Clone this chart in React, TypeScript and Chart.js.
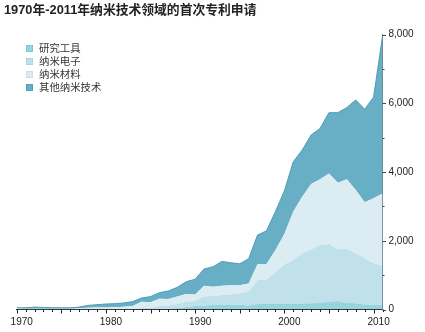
import React, { useEffect, useRef } from "react";
import { Chart, registerables } from "chart.js";

Chart.register(...registerables);

const TITLE = "1970年-2011年纳米技术领域的首次专利申请";
const years = [
  1970, 1971, 1972, 1973, 1974, 1975, 1976, 1977, 1978, 1979,
  1980, 1981, 1982, 1983, 1984, 1985, 1986, 1987, 1988, 1989,
  1990, 1991, 1992, 1993, 1994, 1995, 1996, 1997, 1998, 1999,
  2000, 2001, 2002, 2003, 2004, 2005, 2006, 2007, 2008, 2009,
  2010, 2011,
];
const seriesNames = ["研究工具", "纳米电子", "纳米材料", "其他纳米技术"];
const researchTools = [
  0, 0, 0, 0, 0, 0, 0, 0, 0, 0,
  0, 0, 0, 5, 10, 15, 20, 25, 35, 75,
  100, 120, 130, 130, 130, 135, 120, 160, 160, 160,
  160, 170, 175, 180, 190, 225, 245, 190, 180, 145,
  135, 135,
];
const nanoElectronics = [
  5, 5, 5, 5, 5, 5, 5, 5, 5, 5,
  5, 5, 5, 10, 25, 35, 80, 95, 125, 150,
  145, 255, 260, 290, 310, 335, 400, 700, 700, 940,
  1150, 1270, 1460, 1570, 1680, 1680, 1505, 1580, 1455, 1345,
  1210, 1140,
];
const nanoMaterials = [
  25, 20, 20, 15, 15, 15, 20, 30, 45, 50,
  55, 60, 75, 85, 190, 160, 215, 185, 215, 225,
  195, 320, 275, 275, 265, 235, 240, 465, 465, 630,
  890, 1410, 1645, 1900, 1920, 2055, 1940, 2020, 1845, 1630,
  1895, 2105,
];
const otherNano = [
  20, 25, 45, 40, 30, 30, 25, 35, 70, 85,
  100, 105, 110, 130, 110, 165, 175, 235, 270, 360,
  440, 485, 580, 705, 655, 625, 720, 845, 965, 1120,
  1250, 1450, 1360, 1430, 1480, 1770, 2040, 2090, 2620, 2710,
  2940, 4570,
];
const yTickLabels = ["0", "2,000", "4,000", "6,000", "8,000"];

const fills = ["#98d4df", "#c0e1e9", "#dbedf2", "#68aec5"];
const swatchBorders = ["#7fc6d4", "#a9d5e0", "#c6e1e9", "#4f9fba"];

const FONT = "'Liberation Sans', 'Noto Sans CJK SC', sans-serif";

const decorPlugin = {
  id: "decor",
  afterDraw(chart: any) {
    const ctx = chart.ctx;
    const xs = chart.scales.x;
    const ys = chart.scales.y;
    const area = chart.chartArea;
    ctx.save();
    ctx.strokeStyle = "#222";
    ctx.lineWidth = 1;
    for (const yr of years) {
      const px = Math.round(xs.getPixelForValue(yr)) + 0.5;
      const len = yr % 5 === 0 ? 4 : 2.5;
      ctx.beginPath();
      ctx.moveTo(px, area.bottom);
      ctx.lineTo(px, area.bottom + len);
      ctx.stroke();
    }
    ctx.strokeStyle = "#444";
    for (let v = 0; v <= 8000; v += 1000) {
      const py = Math.round(ys.getPixelForValue(v)) + 0.5;
      const len = v % 2000 === 0 ? 3.5 : 2;
      ctx.beginPath();
      ctx.moveTo(area.right, py);
      ctx.lineTo(area.right + len, py);
      ctx.stroke();
    }
    ctx.fillStyle = "#222";
    ctx.font = `bold 12.8px ${FONT}`;
    ctx.textBaseline = "middle";
    ctx.textAlign = "left";
    ctx.fillText(TITLE, 4, 10.5);
    ctx.font = `10.4px ${FONT}`;
    const rowsY = [48.5, 61.5, 74.5, 87.5];
    seriesNames.forEach((name, i) => {
      const cy = rowsY[i];
      ctx.fillStyle = fills[i];
      ctx.fillRect(26, cy - 3.5, 7, 7);
      ctx.strokeStyle = swatchBorders[i];
      ctx.strokeRect(26.5, cy - 3, 6, 6);
      ctx.fillStyle = "#333";
      ctx.fillText(name, 39, cy + 0.5);
    });
    ctx.restore();
  },
};

export default function App() {
  const ref = useRef<HTMLCanvasElement | null>(null);
  useEffect(() => {
    document.body.style.margin = "0";
    const canvas = ref.current;
    if (!canvas) return;
    const series = [researchTools, nanoElectronics, nanoMaterials, otherNano];
    const chart = new Chart(canvas, {
      type: "line",
      data: {
        datasets: series.map((arr, i) => ({
          label: seriesNames[i],
          data: years.map((yr, j) => ({ x: yr, y: arr[j] })),
          backgroundColor: fills[i],
          borderColor: i === 3 ? "#4a9dba" : fills[i],
          borderWidth: i === 3 ? 1 : 0,
          fill: i === 0 ? "origin" : "-1",
          pointRadius: 0,
          tension: 0,
        })),
      },
      options: {
        responsive: false,
        animation: false,
        devicePixelRatio: 1,
        layout: { padding: { top: 34.7, left: 16.7, right: 0, bottom: 0 } },
        plugins: {
          legend: { display: false },
          title: { display: false },
          tooltip: { enabled: false },
        },
        scales: {
          x: {
            type: "linear",
            min: 1970,
            max: 2011,
            grid: {
              display: true,
              drawOnChartArea: false,
              drawTicks: true,
              tickLength: 4,
              color: "rgba(0,0,0,0)",
            },
            border: { display: true, color: "#222", width: 1 },
            ticks: {
              stepSize: 1,
              autoSkip: false,
              maxRotation: 0,
              padding: 3,
              labelOffset: 5,
              color: "#222",
              font: { family: FONT, size: 10 },
              callback: (v: any) => (Number(v) % 10 === 0 ? String(v) : ""),
            },
            afterFit: (scale: any) => {
              scale.height = 22.5;
            },
          },
          y: {
            position: "right",
            stacked: true,
            min: 0,
            max: 8000,
            grid: {
              display: true,
              drawOnChartArea: false,
              drawTicks: true,
              tickLength: 3,
              color: "rgba(0,0,0,0)",
            },
            border: { display: true, color: "#6a8a94", width: 1 },
            ticks: {
              stepSize: 1000,
              padding: 3,
              color: "#222",
              font: { family: FONT, size: 10 },
              callback: (v: any) =>
                Number(v) % 2000 === 0 ? yTickLabels[Number(v) / 2000] : "",
            },
            afterFit: (scale: any) => {
              scale.width = 42.5;
            },
          },
        },
      },
      plugins: [decorPlugin],
    });
    return () => chart.destroy();
  }, []);
  return (
    <canvas
      ref={ref}
      width={425}
      height={332}
      style={{ display: "block", width: 425, height: 332 }}
    />
  );
}
